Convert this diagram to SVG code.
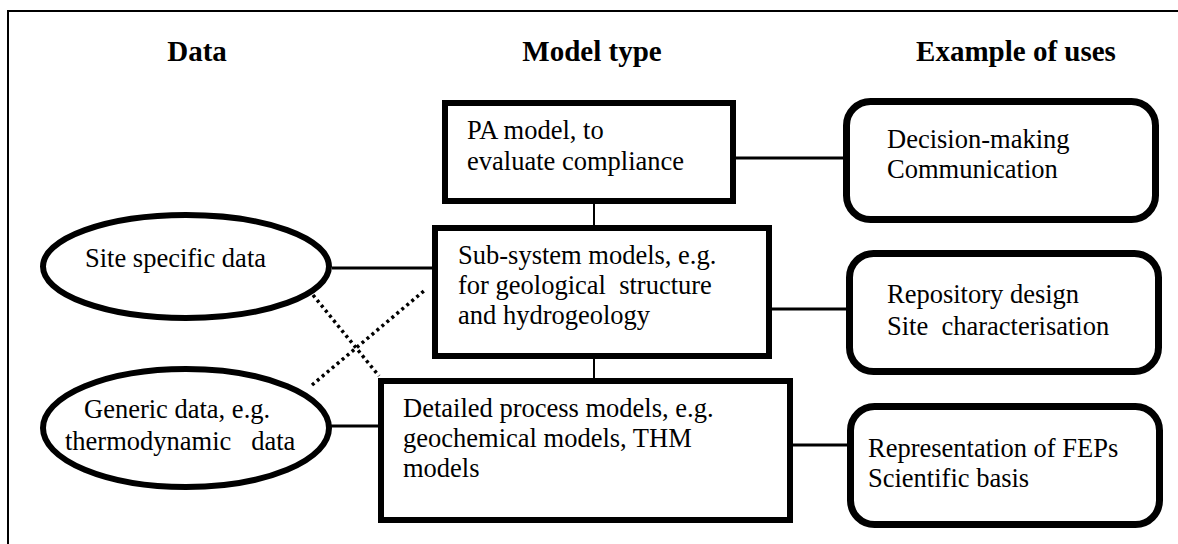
<svg xmlns="http://www.w3.org/2000/svg" width="1178" height="544" viewBox="0 0 1178 544">
<style>
.t{font-family:'Liberation Serif',Tinos,'Times New Roman','DejaVu Serif',serif;font-size:26.5px;fill:#000;white-space:pre}
.h{font-family:'Liberation Serif',Tinos,'Times New Roman','DejaVu Serif',serif;font-size:29px;font-weight:bold;fill:#000;text-anchor:middle}
.box{fill:#fff;stroke:#000;stroke-width:6}
.rbox{fill:#fff;stroke:#000;stroke-width:7}
.ell{fill:#fff;stroke:#000;stroke-width:6}
.c{stroke:#000;stroke-width:3;fill:none}
.v{stroke:#000;stroke-width:2;fill:none}
.d{stroke:#000;stroke-width:3.5;fill:none;stroke-dasharray:3 3.5}
</style>
<rect x="0" y="0" width="1178" height="544" fill="#fff"/>
<g id="frame"><path d="M8 544 V11 H1178" fill="none" stroke="#000" stroke-width="2"/></g>
<g id="headers">
<text class="h" x="197" y="61">Data</text>
<text class="h" x="592" y="61">Model type</text>
<text class="h" x="1016" y="61">Example of uses</text>
</g>
<g id="connectors">
<line class="c" x1="736" y1="158" x2="852" y2="158"/>
<line class="v" x1="594" y1="204" x2="594" y2="226"/>
<line class="c" x1="332" y1="268" x2="433" y2="268"/>
<line class="c" x1="772" y1="309" x2="847" y2="309"/>
<line class="v" x1="594" y1="359" x2="594" y2="379"/>
<line class="c" x1="331" y1="426" x2="379" y2="426"/>
<line class="c" x1="793" y1="445" x2="848" y2="445"/>
<line class="d" x1="313" y1="295" x2="379" y2="376"/>
<line class="d" x1="312" y1="385" x2="425" y2="290"/>
</g>
<g id="pa-model">
<rect class="box" x="445" y="103" width="288" height="98"/>
<text class="t" x="467" y="139">PA model, to</text>
<text class="t" x="467" y="170">evaluate compliance</text>
</g>
<g id="sub-system">
<rect class="box" x="435" y="228" width="334" height="128"/>
<text class="t" x="458" y="264">Sub-system models, e.g.</text>
<text class="t" x="458" y="294">for geological  structure</text>
<text class="t" x="458" y="324">and hydrogeology</text>
</g>
<g id="detailed">
<rect class="box" x="381" y="381" width="409" height="139"/>
<text class="t" x="403" y="417">Detailed process models, e.g.</text>
<text class="t" x="403" y="447">geochemical models, THM</text>
<text class="t" x="403" y="477">models</text>
</g>
<g id="site-data">
<ellipse class="ell" cx="186" cy="266.5" rx="143" ry="51.5"/>
<text class="t" x="85" y="267">Site specific data</text>
</g>
<g id="generic-data">
<ellipse class="ell" cx="186" cy="428" rx="143" ry="59"/>
<text class="t" x="84" y="418">Generic data, e.g.</text>
<text class="t" x="65" y="450">thermodynamic   data</text>
</g>
<g id="decision">
<rect class="rbox" x="846.5" y="101.5" width="309" height="118" rx="24"/>
<text class="t" x="887" y="148">Decision-making</text>
<text class="t" x="887" y="178">Communication</text>
</g>
<g id="repository">
<rect class="rbox" x="849.5" y="253.5" width="309" height="118" rx="24"/>
<text class="t" x="887" y="303">Repository design</text>
<text class="t" x="887" y="335">Site  characterisation</text>
</g>
<g id="representation">
<rect class="rbox" x="850.5" y="406.5" width="309" height="118" rx="24"/>
<text class="t" x="868" y="457">Representation of FEPs</text>
<text class="t" x="868" y="487">Scientific basis</text>
</g>
</svg>
